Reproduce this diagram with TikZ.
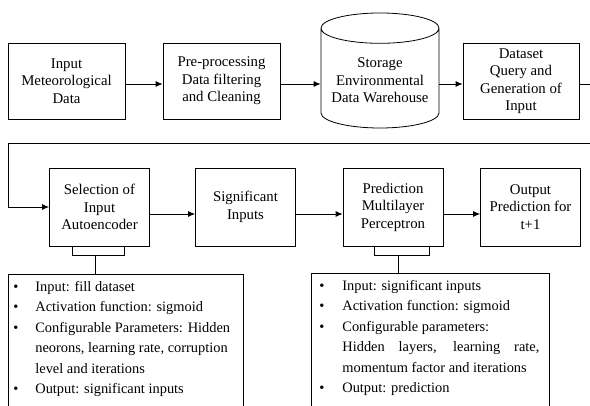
\documentclass[tikz,border=0pt]{standalone}
\usepackage{fontspec}
\setmainfont{Liberation Serif}
\usetikzlibrary{arrows.meta,shapes.geometric}
\tikzset{
  stage/.style={draw, rectangle, align=center, minimum width=117pt, minimum height=76pt, inner sep=2pt},
  small/.style={stage, minimum width=100pt, minimum height=78pt},
  tank/.style={draw, cylinder, shape border rotate=90, aspect=0.3, align=center, minimum width=118pt, minimum height=115pt, inner sep=2pt},
  note/.style={draw, inner xsep=0pt, inner ysep=2.7pt, text depth=150pt, font=\fontsize{14.4}{20.5}\selectfont}
}
\begin{document}
\begin{tikzpicture}[x=1pt, y=-1pt, line width=0.8pt, >={Latex[length=7pt,width=6pt]},
    font=\fontsize{14.8}{17.5}\selectfont]
    \useasboundingbox (0,0) rectangle (590,406);
    \clip (0,0) rectangle (590,406);
    % first row
    \node [stage] (b1) at (66.5,81) {Input\\Meteorological\\Data};
    \node [stage] (b2) at (221.5,81) {Pre-processing\\Data filtering\\and Cleaning};
    \node [tank, anchor=shape center] (b3) at (380,70.5) {Storage\\Environmental\\Data Warehouse};
    \node [stage, minimum width=116pt] (b4) at (521,81) {Dataset\\Query and\\Generation of\\Input};
    % second row
    \node [small] (b5) at (99.5,207) {Selection of\\Input\\Autoencoder};
    \node [small] (b6) at (245.5,207) {Significant\\Inputs};
    \node [small] (b7) at (393,207) {Prediction\\Multilayer\\Perceptron};
    \node [small] (b8) at (530.5,207) {Output\\Prediction for\\t+1};
    % notes
    \node [note, anchor=north west] (n1) at (8,274) {%
      \begin{tabular}[t]{@{\hspace{5pt}}p{22pt}@{}p{208pt}@{}}
        \textbullet & Input: fill dataset\\
        \textbullet & Activation function: sigmoid\\
        \textbullet & Configurable Parameters: Hidden\newline neorons, learning rate, corruption\newline level and iterations\\
        \textbullet & Output: significant inputs
      \end{tabular}};
    \node [note, anchor=north west] (n2) at (311,273) {%
      \begin{tabular}[t]{@{\hspace{8pt}}p{23pt}@{}p{197pt}@{\hspace{10pt}}}
        \textbullet & Input: significant inputs\\
        \textbullet & Activation function: sigmoid\\
        \textbullet & Configurable parameters:\newline \makebox[\linewidth][s]{Hidden layers, learning rate,}\newline momentum factor and iterations\\
        \textbullet & Output: prediction
      \end{tabular}};
    \coordinate (c1) at (600,143);
    \coordinate (c2) at (8,143);
    \coordinate (f1) at (95,255);
    \coordinate (f2) at (398,255);
    % connectors
    \draw [->] ([yshift=-3pt]b1.east) -- ([yshift=-3pt]b2.west);
    \draw [->] ([yshift=-3pt]b2.east) -- ([yshift=-3pt]b2.east -| b3.west);
    \draw [->] ([yshift=-3pt]b4.west -| b3.east) -- ([yshift=-3pt]b4.west);
    \draw [->] ([yshift=-3pt]b4.east) -| (c1) -- (c2) |- (b5.west);
    \draw [->] ([yshift=-7pt]b5.east) -- ([yshift=-7pt]b6.west);
    \draw [->] ([yshift=-7pt]b6.east) -- ([yshift=-7pt]b7.west);
    \draw [->] ([yshift=-7pt]b7.east) -- ([yshift=-7pt]b8.west);
    \draw ([xshift=-27.5pt]b5.south) -- ++(0,9) -| ([xshift=24.5pt]b5.south);
    \draw (f1) -- (f1 |- n1.north);
    \draw ([xshift=-19pt]b7.south) -- ++(0,9) -| ([xshift=36pt]b7.south);
    \draw (f2) -- (f2 |- n2.north);
\end{tikzpicture}
\end{document}
